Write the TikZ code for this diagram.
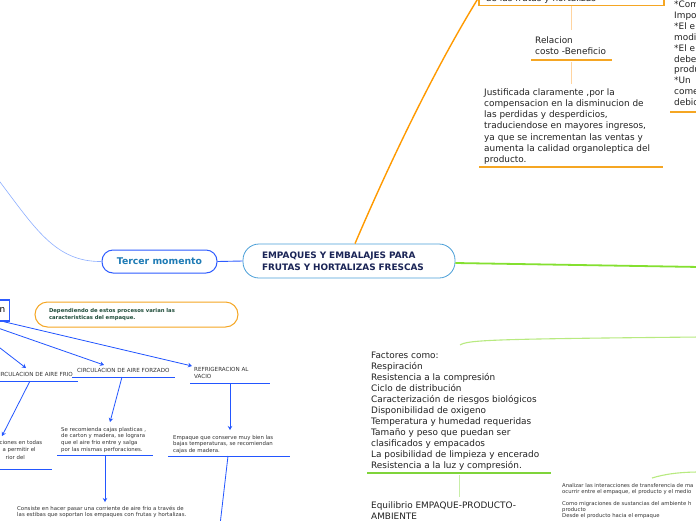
\documentclass[tikz,border=0pt]{standalone}
\usepackage{fontspec}
\setmainfont{DejaVu Sans}
\usetikzlibrary{arrows.meta,calc}
\definecolor{orangeA}{HTML}{FF9A00}
\definecolor{orangeB}{HTML}{F5A623}
\definecolor{orangeC}{HTML}{FFD4A0}
\definecolor{blueMain}{HTML}{4A9FD8}
\definecolor{navy}{HTML}{1A2456}
\definecolor{tBlue}{HTML}{2D5BFF}
\definecolor{tText}{HTML}{1E7BB5}
\definecolor{arrowBlue}{HTML}{2356FF}
\definecolor{lightBlue}{HTML}{8FB0FF}
\definecolor{greenA}{HTML}{84E030}
\definecolor{greenB}{HTML}{7FD43A}
\definecolor{greenC}{HTML}{B8EA80}
\definecolor{greenPale}{HTML}{C8EEA8}
\definecolor{darkGreen}{HTML}{1F4D3A}
\definecolor{textGray}{HTML}{222222}
\definecolor{smallGray}{HTML}{333333}
\begin{document}
\begin{tikzpicture}[x=1pt,y=-1pt,
  txt/.style={inner sep=0pt, anchor=north west, align=left, text=textGray, font=\fontsize{8.9}{11.1}\selectfont},
  sm/.style={inner sep=0pt, anchor=north west, align=left, text=smallGray, font=\fontsize{5.4}{6.8}\selectfont},
  lbl/.style={inner sep=0pt, align=left, text=smallGray, font=\fontsize{5.6}{7}\selectfont},
  obox/.style={draw=orangeB, line width=1.5pt, fill=white},
  oline/.style={draw=orangeB, line width=1.2pt},
  opale/.style={draw=orangeC, line width=0.8pt},
  bline/.style={draw=arrowBlue, line width=1pt},
  barrow/.style={draw=arrowBlue, line width=0.8pt, -{Stealth[length=4pt,width=4.5pt]}},
  gline/.style={draw=greenB, line width=1.3pt},
  gpale/.style={draw=greenPale, line width=0.8pt},
  mainnode/.style={draw=blueMain, line width=0.8pt, fill=white, rounded corners=16pt,
    minimum width=212pt, minimum height=34pt, text width=174pt, inner xsep=19pt, align=left,
    text=navy, font=\bfseries\fontsize{8.9}{12}\selectfont},
  ternode/.style={draw=tBlue, line width=1pt, fill=white, rounded corners=11pt,
    minimum width=115pt, minimum height=23pt, text=tText, font=\bfseries\fontsize{9.3}{11}\selectfont},
  nboxstyle/.style={draw=tBlue, line width=1.5pt, fill=white, minimum width=60pt, minimum height=21pt,
    text width=52pt, inner xsep=4pt, align=right, text=black, font=\fontsize{8.9}{11}\selectfont},
  depnode/.style={draw=orangeB, line width=1pt, fill=white, rounded corners=12.5pt,
    minimum width=203pt, minimum height=25pt, text width=175pt, inner xsep=14pt, align=left,
    text=darkGreen, font=\bfseries\fontsize{5.3}{7}\selectfont}
]
\useasboundingbox (0,0) rectangle (696,520);
\fill[white] (0,0) rectangle (696,520);

% ---------- top branch (orange) ----------
\node[obox, anchor=south west, text width=171pt, inner xsep=7pt, inner ysep=2.4pt, align=left,
  text=textGray, font=\fontsize{8.9}{11}\selectfont] (tb) at (478,6) {de las frutas y hortalizas};
\node[txt] (rel) at (535,36.4) {Relacion\\costo -Beneficio};
\coordinate (relUa) at (531,60);
\coordinate (relUb) at (612,60);
\coordinate (relUm) at (571,60);
\node[txt, font=\fontsize{8.9}{11.2}\selectfont] (just) at (484,88.4) {Justificada claramente ,por la\\compensacion en la disminucion de\\las perdidas y desperdicios,\\traduciendose en mayores ingresos,\\ya que se incrementan las ventas y\\aumenta la calidad organoleptica del\\producto.};
\coordinate (justUa) at (479,167);
\coordinate (justUb) at (663,167);
\node[txt, font=\fontsize{8.9}{10.9}\selectfont] (tr) at (674,0.7) {*Com\\Impo\\*El e\\modi\\*El e\\debe\\produ\\*Un\\come\\debid};
\coordinate (trUa) at (670,112);
\coordinate (trUb) at (700,112);

\draw[opale] (tb.south) -- ($(tb.south |- rel.north)+(0,-6)$);
\draw[oline] (relUa) -- (relUb);
\draw[opale] ($(relUm)+(0,2)$) -- ($(relUm |- just.north)+(0,-4)$);
\draw[oline] (justUa) -- (justUb);
\draw[oline] (trUa) -- (trUb);

% ---------- main node ----------
\node[mainnode] (main) at (349,261) {EMPAQUES Y EMBALAJES PARA\\FRUTAS Y HORTALIZAS FRESCAS};
\draw[orangeA, line width=1.4pt] ([xshift=6pt]main.north) .. controls (395,150) and (440,60) .. (tb.west);

% green branch to the right
\coordinate (gEnd) at (700,267);
\draw[greenA, line width=1.8pt] ([yshift=-2pt]main.east) -- (gEnd);

% ---------- Tercer momento ----------
\node[ternode] (ter) at (159.5,261.5) {Tercer momento};
\draw[tBlue, line width=0.9pt] (main.west) -- (ter.east);
\coordinate (lbEnd) at (-3,178);
\draw[lightBlue, line width=0.6pt] (ter.west) .. controls (55,262) and (35,228) .. (lbEnd);

% ---------- left process group ----------
\node[nboxstyle, anchor=east] (nbox) at (10,310.5) {n};
\node[depnode] (dep) at (136.5,314.5) {Dependiendo de estos procesos varian las\\caracteristicas del empaque.};

\node[lbl, anchor=east] (frio) at (73,374) {CIRCULACION DE AIRE FRIO};
\node[lbl, anchor=west] (forz) at (77,370) {CIRCULACION DE AIRE FORZADO};
\node[lbl, anchor=north west] (refr) at (194,367.6) {REFRIGERACION AL\\VACIO};

\coordinate (t1) at (26,368);
\coordinate (t2) at (104,365);
\coordinate (t3) at (192,366);
\draw[barrow] ([xshift=-44pt]nbox.south east) -- (t1);
\draw[barrow] ([xshift=-30pt]nbox.south east) -- (t2);
\draw[barrow] ([xshift=-6pt]nbox.south east) -- (t3);

\coordinate (frUa) at (-3,381);
\coordinate (frUb) at (78,381);
\coordinate (frUm) at (30,381);
\coordinate (fzUa) at (72,377);
\coordinate (fzUb) at (175,377);
\coordinate (fzUm) at (122,377);
\coordinate (rfUa) at (190,383);
\coordinate (rfUb) at (270,383);
\coordinate (rfUm) at (230,383);
\draw[bline] (frUa) -- (frUb);
\draw[bline] (fzUa) -- (fzUb);
\draw[bline] (rfUa) -- (rfUb);

\node[sm, font=\fontsize{5.4}{7.5}\selectfont] (lb) at (-0.5,439.8) {ciones en todas\\\hspace*{3pt}a permitir el\\\hspace*{6pt}rior del};
\node[sm] (mb) at (61,426.8) {Se recomienda cajas plasticas ,\\de carton y madera, se lograra\\que el aire frio entre y salga\\por las mismas perforaciones.};
\node[sm, font=\fontsize{5.4}{6.5}\selectfont] (rb) at (173,434.8) {Empaque que conserve muy bien las\\bajas temperaturas, se recomiendan\\cajas de madera.};

\coordinate (t4) at (2,436);
\coordinate (t5) at (110,422);
\coordinate (t6) at (230,430);
\draw[barrow] (frUm) -- (t4);
\draw[barrow] (fzUm) -- (t5);
\draw[barrow] (rfUm) -- (t6);

\coordinate (lbUa) at (-3,469);
\coordinate (lbUb) at (52,469);
\coordinate (mbUa) at (57,455);
\coordinate (mbUb) at (153,455);
\coordinate (mbUm) at (105,455);
\coordinate (rbUa) at (168,456);
\coordinate (rbUb) at (290,456);
\coordinate (rbUm) at (228,456);
\draw[bline] (lbUa) -- (lbUb);
\draw[bline] (mbUa) -- (mbUb);
\draw[bline] (rbUa) -- (rbUb);

\node[sm, font=\fontsize{5.4}{6}\selectfont] (cons) at (17,506.2) {Consiste en hacer pasar una corriente de aire frio a través de\\las estibas que soportan los empaques con frutas y hortalizas.};
\coordinate (t7) at (105,502);
\draw[barrow] (mbUm) -- (t7);
\coordinate (rbEnd) at (220,525);
\draw[arrowBlue, line width=0.8pt] (rbUm) -- (rbEnd);

% ---------- right-bottom (green) ----------
\coordinate (gc1a) at (460,345);
\coordinate (gc1b) at (700,337);
\draw[greenC, line width=1.1pt] (gc1a) .. controls (468,340) and (490,339) .. (gc1b);
\node[txt, font=\fontsize{8.9}{11}\selectfont] (fac) at (371,351.4) {Factores como:\\Respiración\\Resistencia a la compresión\\Ciclo de distribución\\Caracterización de riesgos biológicos\\Disponibilidad de oxigeno\\Temperatura y humedad requeridas\\Tamaño y peso que puedan ser\\clasificados y empacados\\La posibilidad de limpieza y encerado\\Resistencia a la luz y compresión.};
\coordinate (facUa) at (367,473);
\coordinate (facUb) at (551,473);
\coordinate (facUm) at (459,473);
\draw[gline] (facUa) -- (facUb);
\node[txt, font=\fontsize{8.9}{11}\selectfont] (eq) at (371,502) {Equilibrio EMPAQUE-PRODUCTO-\\AMBIENTE};
\draw[gpale] ($(facUm)+(0,2)$) -- ($(facUm |- eq.north)+(0,-5)$);

\coordinate (gc2a) at (652,478);
\coordinate (gc2b) at (700,472);
\draw[greenC, line width=1.1pt] (gc2a) .. controls (665,474) and (680,472) .. (gc2b);
\node[sm, font=\fontsize{5.3}{6}\selectfont] (ana) at (562,482.9) {Analizar las interacciones de transferencia de ma\\ocurrir entre el empaque, el producto y el medio\\[6pt]Como migraciones de sustancias del ambiente h\\producto\\Desde el producto hacia el empaque};
\end{tikzpicture}
\end{document}
